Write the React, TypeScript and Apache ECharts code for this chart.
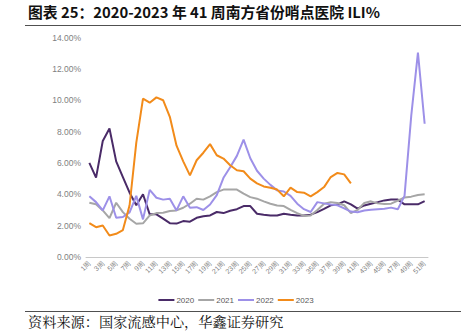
import React, { useEffect, useRef } from "react";
import * as echarts from "echarts";

const weeks = [
  "1周","2周","3周","4周","5周","6周","7周","8周","9周","10周",
  "11周","12周","13周","14周","15周","16周","17周","18周","19周","20周",
  "21周","22周","23周","24周","25周","26周","27周","28周","29周","30周",
  "31周","32周","33周","34周","35周","36周","37周","38周","39周","40周",
  "41周","42周","43周","44周","45周","46周","47周","48周","49周","50周","51周",
];

const s2020 = [
  6.0, 5.06, 7.4, 8.2, 6.1, 5.1, 4.1, 3.3, 4.0, 2.72,
  2.72, 2.45, 2.16, 2.13, 2.29, 2.25, 2.5, 2.6, 2.65, 2.87,
  2.8, 2.95, 3.05, 3.25, 3.25, 2.76, 2.7, 2.65, 2.65, 2.76,
  2.7, 2.65, 2.65, 2.7, 2.86, 3.07, 3.3, 3.35, 3.55, 3.36,
  3.08, 3.29, 3.4, 3.5, 3.61, 3.66, 3.66, 3.36, 3.36, 3.36, 3.57,
];

const s2021 = [
  3.46, 3.36, 2.97, 2.48, 3.46, 2.86, 2.44, 2.12, 2.15, 2.65,
  2.8, 2.82, 2.93, 2.97, 3.14, 3.4, 3.72, 3.66, 3.87, 4.14,
  4.3, 4.3, 4.3, 4.04, 3.82, 3.72, 3.55, 3.4, 3.29, 3.25,
  3.0, 2.8, 2.62, 2.65, 3.0, 3.4, 3.5, 3.44, 3.3, 2.8,
  3.0, 3.45, 3.55, 3.42, 3.38, 3.4, 3.6, 3.8, 3.85, 3.95, 4.0,
];

const s2022 = [
  3.87, 3.5, 2.97, 3.87, 2.5, 2.55, 2.85, 3.9, 2.4, 4.28,
  3.78, 3.66, 3.72, 2.97, 3.87, 3.14, 3.18, 3.0, 3.35, 3.95,
  5.05, 5.72, 6.45, 7.49, 6.3, 5.5, 5.0, 4.6, 4.25, 4.18,
  3.9, 3.4, 3.05, 2.87, 3.5, 3.42, 3.35, 3.3, 3.1, 2.9,
  2.85, 2.97, 3.02, 3.05, 3.08, 3.15, 3.05, 3.9, 9.0, 13.03, 8.5,
];

const s2023 = [
  2.16, 1.9, 2.01, 1.37, 1.48, 1.72, 3.3, 7.3, 10.1, 9.84,
  10.18, 10.0, 8.94, 7.1, 6.1, 5.21, 6.17, 6.65, 7.2, 6.49,
  6.28, 5.85, 5.53, 5.47, 5.0, 4.7, 4.5, 4.42, 4.3, 3.87,
  4.42, 4.14, 4.1, 3.87, 4.14, 4.46, 5.1, 5.36, 5.27, 4.7,
];

const seriesNames = ["2020", "2021", "2022", "2023"];
const seriesColors = ["#4a2b68", "#a6a6a6", "#9d90e8", "#f28b1a"];
const seriesData = [s2020, s2021, s2022, s2023];

const titleText = "图表 25：2020-2023 年 41 周南方省份哨点医院 ILI%";
const sourceText = "资料来源：国家流感中心，华鑫证券研究";

export default function App() {
  const ref = useRef<HTMLDivElement>(null);
  useEffect(() => {
    if (!ref.current) return;
    const chart = echarts.init(ref.current, undefined, { renderer: "svg" });
    chart.setOption({
      animation: false,
      backgroundColor: "#ffffff",
      textStyle: { fontFamily: "'Liberation Sans', Arial, sans-serif" },
      grid: { left: 86, right: 44, top: 37.5, bottom: 74 },
      legend: {
        data: seriesNames,
        top: 291,
        left: "center",
        icon: "rect",
        itemWidth: 16,
        itemHeight: 2,
        itemGap: 4,
        textStyle: { fontSize: 8, color: "#595959", padding: [0, 0, 0, -3] },
      },
      xAxis: {
        type: "category",
        data: weeks,
        boundaryGap: true,
        axisLine: { lineStyle: { color: "#c8c8c8", width: 1 } },
        axisTick: { show: false },
        axisLabel: {
          interval: 1,
          rotate: 45,
          fontSize: 7,
          color: "#7f7f7f",
          margin: 5,
        },
      },
      yAxis: {
        type: "value",
        min: 0,
        max: 14,
        interval: 2,
        splitLine: { show: false },
        axisLine: { show: false },
        axisTick: { show: false },
        axisLabel: {
          fontSize: 8.5,
          color: "#7f7f7f",
          margin: 5,
          formatter: (v: number) => v.toFixed(2) + "%",
        },
      },
      series: seriesNames.map((n, i) => ({
        name: n,
        type: "line",
        data: seriesData[i],
        symbol: "none",
        lineStyle: { width: 2, color: seriesColors[i] },
        itemStyle: { color: seriesColors[i] },
      })),
      graphic: [
        {
          type: "text",
          left: 28,
          top: 4,
          style: {
            text: titleText,
            fontSize: 14.8,
            fontWeight: "bold",
            fill: "#111111",
            fontFamily: "'Noto Sans CJK SC', sans-serif",
          },
        },
        {
          type: "line",
          shape: { x1: 25, y1: 25.5, x2: 461, y2: 25.5 },
          style: { stroke: "#505050", lineWidth: 1.2 },
        },
        {
          type: "line",
          shape: { x1: 25, y1: 311.5, x2: 461, y2: 311.5 },
          style: { stroke: "#505050", lineWidth: 1.2 },
        },
        {
          type: "text",
          left: 28,
          top: 313.5,
          style: {
            text: sourceText,
            fontSize: 14.2,
            fill: "#111111",
            fontFamily: "'Noto Serif CJK SC', 'Noto Sans CJK SC', serif",
          },
        },
      ],
    });
    return () => chart.dispose();
  }, []);
  return (
    <div
      ref={ref}
      style={{ position: "fixed", left: 0, top: 0, width: 472, height: 331 }}
    />
  );
}
